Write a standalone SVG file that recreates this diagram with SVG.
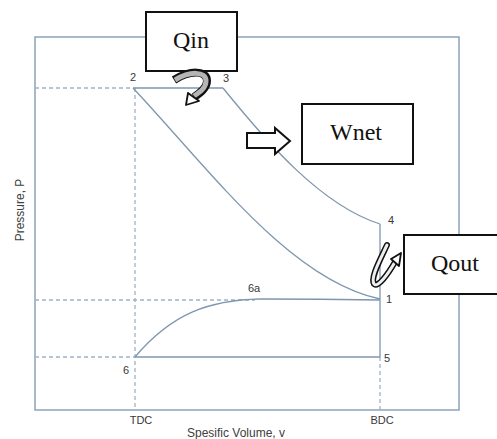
<svg xmlns="http://www.w3.org/2000/svg" width="497" height="439" viewBox="0 0 497 439">
<style>
.frame{fill:none;stroke:#8ba3bb;stroke-width:1.5}
.curve{fill:none;stroke:#7f96ae;stroke-width:1.3}
.dash{fill:none;stroke:#9db2c6;stroke-width:1.3;stroke-dasharray:4 3}
.lbl{font-family:"Liberation Sans",Arial,sans-serif;font-size:11px;fill:#383838}
.axis{font-family:"Liberation Sans",Arial,sans-serif;font-size:12px;fill:#404040}
.box{fill:#fff;stroke:#111;stroke-width:2}
.big{font-family:"Liberation Serif","Times New Roman",serif;font-size:24px;fill:#111;text-anchor:middle}
</style>
<rect width="497" height="439" fill="#fff"/>
<g id="axes">
<rect class="frame" x="35" y="37" width="424" height="373"/>
<text class="axis" transform="translate(24,210) rotate(-90)" text-anchor="middle">Pressure, P</text>
<text class="axis" x="236" y="437" text-anchor="middle">Spesific Volume, v</text>
<text class="lbl" x="141" y="424" text-anchor="middle">TDC</text>
<text class="lbl" x="382" y="424" text-anchor="middle">BDC</text>
</g>
<g id="connectors">
<path class="dash" d="M35,88 H133 M135,88 V410 M35,300 H255 M35,357 H135 M380,357 V410"/>
<path class="curve" d="M133,88 H223"/>
<path class="curve" d="M223,88 C265,140 320,205 380,224"/>
<path class="curve" d="M133,88 C210,170 290,280 380,299"/>
<path class="curve" d="M380,224 V357"/>
<path class="curve" d="M135,357 H380"/>
<path class="curve" d="M135,357 C172,313 210,300 260,299 Q320,299 380,300"/>
</g>
<g id="points">
<text class="lbl" x="133" y="81" text-anchor="middle">2</text>
<text class="lbl" x="226" y="82" text-anchor="middle">3</text>
<text class="lbl" x="391" y="224" text-anchor="middle">4</text>
<text class="lbl" x="389" y="303" text-anchor="middle">1</text>
<text class="lbl" x="387" y="362" text-anchor="middle">5</text>
<text class="lbl" x="126" y="374" text-anchor="middle">6</text>
<text class="lbl" x="254" y="292" text-anchor="middle">6a</text>
</g>
<g id="qin">
<rect class="box" x="146" y="12" width="91" height="59"/>
<text class="big" x="191" y="48">Qin</text>
</g>
<g id="wnet">
<rect class="box" x="302" y="104" width="111" height="60"/>
<text class="big" x="356" y="140">Wnet</text>
</g>
<g id="qout">
<rect class="box" x="404" y="235" width="100" height="59"/>
<text class="big" x="455" y="271">Qout</text>
</g>
<g id="arrow-qin">
<path d="M174,80 C190,70 207,70 207,81 C207,88 200,93 194,97" fill="none" stroke="#111" stroke-width="8"/>
<path d="M175,80 C190,71 206,71 206,81 C206,88 200,92 194,96" fill="none" stroke="#b5b5b5" stroke-width="5"/>
<path d="M188,93 L199,101 L186,105 Z" fill="#fff" stroke="#111" stroke-width="1.8" stroke-linejoin="round"/>
</g>
<g id="arrow-wnet">
<polygon points="247,133 275,133 275,128 290,141 275,154 275,148 247,148" fill="#fff" stroke="#111" stroke-width="2"/>
</g>
<g id="arrow-qout">
<path d="M387,245 C380,260 370,278 374,284 C378,288 388,274 395,262" fill="none" stroke="#111" stroke-width="6" stroke-linecap="round"/>
<path d="M387,245 C380,260 370,278 374,284 C378,288 388,274 395,262" fill="none" stroke="#eee" stroke-width="3" stroke-linecap="round"/>
<path d="M401,253 L391,259 L399,266 Z" fill="#fff" stroke="#111" stroke-width="1.8" stroke-linejoin="round"/>
</g>
</svg>
